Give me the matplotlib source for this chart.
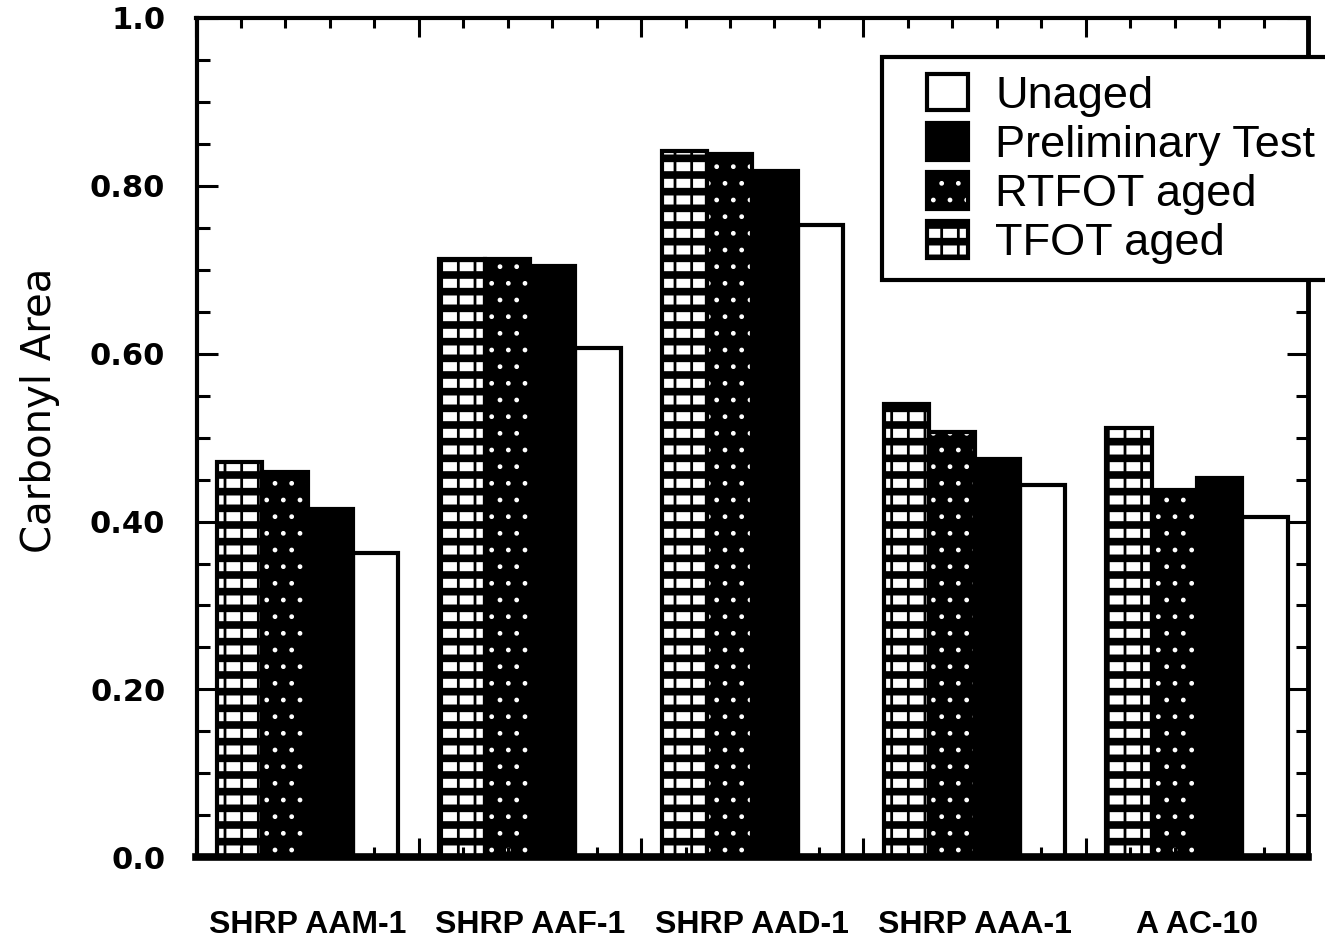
import numpy as np
import matplotlib
matplotlib.use("Agg")
import matplotlib.pyplot as plt
from matplotlib.patches import Rectangle, Patch
from matplotlib.legend_handler import HandlerBase
from matplotlib.ticker import FixedLocator, FixedFormatter, MultipleLocator

# Carbonyl area of each asphalt after the different ageing procedures
asphalts = ["SHRP AAM-1", "SHRP AAF-1", "SHRP AAD-1", "SHRP AAA-1", "A AC-10"]
tfot_aged = [0.471, 0.713, 0.841, 0.540, 0.512]
rtfot_aged = [0.459, 0.713, 0.838, 0.507, 0.438]
preliminary = [0.415, 0.705, 0.818, 0.475, 0.452]
unaged = [0.363, 0.607, 0.753, 0.443, 0.406]

y_ticks = [0.0, 0.2, 0.4, 0.6, 0.8, 1.0]
y_tick_labels = ["0.0", "0.20", "0.40", "0.60", "0.80", "1.0"]
legend_order = ["Unaged", "Preliminary Test", "RTFOT aged", "TFOT aged"]

# fill layers per treatment: (face colour, hatch, hatch ink, hatch line width)
LAYERS = {
    "Unaged": [("white", None, "black", 1.0)],
    "Preliminary Test": [("black", None, "black", 1.0)],
    "RTFOT aged": [("black", ".", "white", 1.0)],
    "TFOT aged": [("white", "-", "black", 5.5), ("none", "|", "black", 2.0)],
}
OUTLINE_LW = 3.0


def fix_hatch_width(patch, hlw):
    if hasattr(patch, "set_hatch_linewidth"):
        patch.set_hatch_linewidth(hlw)


fig = plt.figure(figsize=(13.25, 9.43), dpi=100, facecolor="white")
ax = fig.add_axes([196.5 / 1325, 1 - 857.3 / 943, 1111.5 / 1325, 839.4 / 943])

x = np.arange(len(asphalts))
width = 0.204
series = [("TFOT aged", tfot_aged), ("RTFOT aged", rtfot_aged),
          ("Preliminary Test", preliminary), ("Unaged", unaged)]
for k, (name, vals) in enumerate(series):
    pos = x + (k - 1.5) * width
    for face, hatch, ink, hlw in LAYERS[name]:
        with plt.rc_context({"hatch.linewidth": hlw}):
            bars = ax.bar(pos, vals, width, color=face, edgecolor=ink,
                          hatch=hatch, linewidth=0, zorder=1)
        for p in bars.patches:
            fix_hatch_width(p, hlw)
    ax.bar(pos, vals, width, fill=False, edgecolor="black",
           linewidth=OUTLINE_LW, zorder=1.2)

ax.set_xlim(-0.5, 4.5)
ax.set_ylim(0, 1.0)

# axis frame
for side, lw in [("left", 3.0), ("right", 3.5), ("top", 3.0), ("bottom", 5.5)]:
    ax.spines[side].set_linewidth(lw)
    ax.spines[side].set_color("black")

ax.yaxis.set_major_locator(FixedLocator(y_ticks))
ax.yaxis.set_major_formatter(FixedFormatter(y_tick_labels))
ax.yaxis.set_minor_locator(MultipleLocator(0.05))
ax.xaxis.set_major_locator(FixedLocator(np.arange(-0.5, 4.6, 1.0)))
ax.xaxis.set_minor_locator(FixedLocator(np.arange(-0.5, 4.51, 0.2)))

ax.tick_params(axis="both", which="both", direction="in", top=True, right=True,
               width=2.2, color="black")
ax.tick_params(axis="y", which="major", length=15, pad=22.5,
               labelsize=22)
ax.tick_params(axis="y", which="minor", length=9)
ax.tick_params(axis="x", which="major", length=14, labelbottom=False)
ax.tick_params(axis="x", which="minor", length=7)
for lab in ax.get_yticklabels():
    lab.set_fontfamily("DejaVu Sans")
    lab.set_fontweight("bold")

# group names under the axis
for i, name in enumerate(asphalts):
    ax.text(x[i], -0.0807, name, transform=ax.get_xaxis_transform(),
            ha="center", va="center", fontsize=23, fontweight="bold",
            family=["Liberation Sans", "DejaVu Sans"])

fig.text(40 / 1325, 1 - 410 / 943, "Carbonyl Area", rotation=90,
         ha="center", va="center", fontsize=29, family="DejaVu Sans")


class Swatch(HandlerBase):
    """Legend key: a fixed-size box right-aligned in the handle area."""

    def create_artists(self, legend, orig_handle, xdescent, ydescent,
                       width, height, fontsize, trans):
        name = orig_handle.get_label()
        w, h = 30.0, 26.5
        x0 = width - w - xdescent
        y0 = (height - h) / 2 - ydescent
        arts = []
        for face, hatch, ink, hlw in LAYERS[name]:
            with plt.rc_context({"hatch.linewidth": hlw}):
                r = Rectangle((x0, y0), w, h, facecolor=face, edgecolor=ink,
                              hatch=hatch, linewidth=0, transform=trans)
            fix_hatch_width(r, hlw)
            arts.append(r)
        arts.append(Rectangle((x0, y0), w, h, fill=False, edgecolor="black",
                              linewidth=OUTLINE_LW, transform=trans))
        return arts


handles = [Patch(label=n) for n in legend_order]
leg = ax.legend(handles=handles, loc="upper left",
                bbox_to_anchor=(882 / 1325, 1 - 57 / 943),
                bbox_transform=fig.transFigure, borderaxespad=0,
                handler_map={Patch: Swatch()},
                prop={"family": "Liberation Sans", "size": 32.5},
                handlelength=1.55, handleheight=0.9, handletextpad=0.6,
                labelspacing=0.13, borderpad=0.36,
                frameon=True, fancybox=False, framealpha=1, edgecolor="black")
leg.get_frame().set_linewidth(3.0)
leg.set_zorder(5)

fig.savefig("out.png", dpi=100, facecolor="white")
